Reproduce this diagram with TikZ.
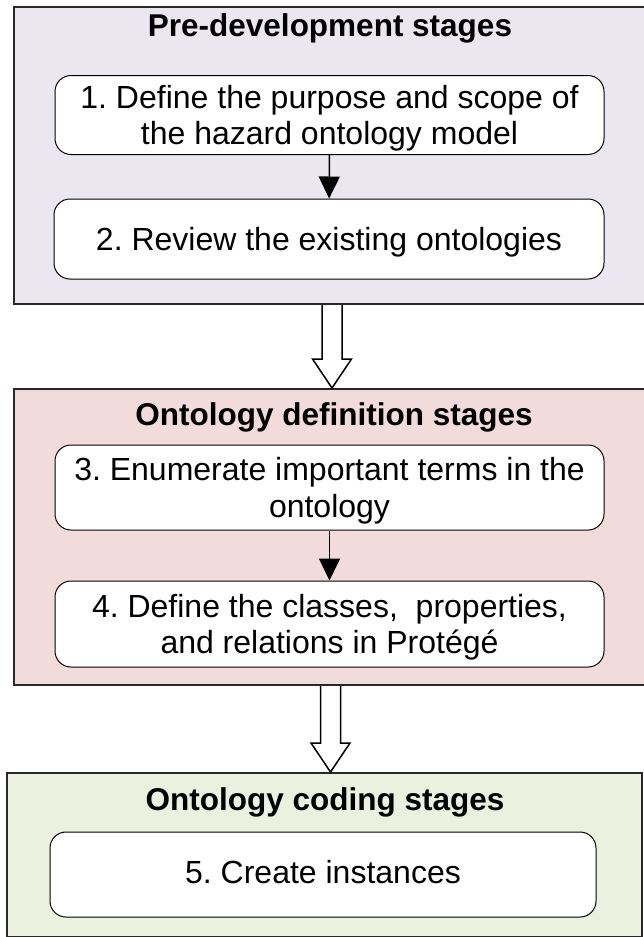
\documentclass[tikz,border=0pt]{standalone}
\usepackage{fontspec}
\setmainfont{Liberation Sans}
\usetikzlibrary{arrows.meta,calc}

\definecolor{predev}{RGB}{234,231,240}
\definecolor{ontodef}{RGB}{242,220,219}
\definecolor{ontocode}{RGB}{235,241,222}
\definecolor{frameline}{RGB}{40,40,40}

\tikzset{
  stagebox/.style={draw=frameline, line width=2pt, rectangle, inner sep=0pt},
  stagetitle/.style={font=\bfseries\fontsize{31.5}{36}\selectfont, inner sep=0pt, anchor=base},
  stepbox/.style={draw=black, line width=1pt, fill=white, rounded corners=16pt,
    align=center, inner sep=0pt, text depth=0pt, font=\fontsize{32}{36.5}\selectfont},
  flow/.style={draw=black, line width=1.5pt, -{Triangle[width=21pt,length=22pt]}},
  blockarrow/.style={draw=black, line width=1.5pt, fill=white, line join=miter},
}

% hollow block arrow from the shaft top #1 down to the tip #2
\newcommand\hollowarrow[2]{%
  \draw[blockarrow] let \p1=(#1), \p2=(#2) in
    (\x1-10pt,\y1) -- (\x1-10pt,\y2+29pt) -- (\x1-19.5pt,\y2+29pt) -- (\x2,\y2)
    -- (\x1+19.5pt,\y2+29pt) -- (\x1+10pt,\y2+29pt) -- (\x1+10pt,\y1);}

\begin{document}
\frenchspacing
\begin{tikzpicture}[x=1pt,y=-1pt]
  \useasboundingbox (0,0) rectangle (644,937);

  % stage frames
  \node[stagebox, fill=predev, minimum width=634pt, minimum height=297pt]
    (b1) at (331,155.5) {};
  \node[stagebox, fill=ontodef, minimum width=634pt, minimum height=296pt]
    (b2) at (331,537) {};
  \node[stagebox, fill=ontocode, minimum width=635pt, minimum height=164pt]
    (b3) at (324.5,855) {};

  % stage titles
  \node[stagetitle] (t1) at (330,36) {Pre-development stages};
  \node[stagetitle] (t2) at (334,425) {Ontology definition stages};
  \node[stagetitle] (t3) at (325,810) {Ontology coding stages};

  % steps
  \node[stepbox, minimum width=549pt, minimum height=79pt] (s1) at (329.5,115)
    {1. Define the purpose and scope of\\the hazard ontology model};
  \node[stepbox, minimum width=550pt, minimum height=80pt] (s2) at (329,239)
    {2. Review the existing ontologies};
  \node[stepbox, minimum width=549pt, minimum height=85pt] (s3) at (329.5,487.5)
    {3. Enumerate important terms in the\\ontology};
  \node[stepbox, minimum width=549pt, minimum height=86pt] (s4) at (329.5,624)
    {4. Define the classes,\ \ properties,\\and relations in Protégé};
  \node[stepbox, text depth=5pt, minimum width=546pt, minimum height=85pt] (s5) at (323,874.5)
    {5. Create instances};

  % connectors inside the stages
  \draw[flow] (s1) -- (s2);
  \draw[flow] (s3) -- (s4);

  % transitions between stages
  \coordinate (a1top) at (b1.south -| 332,0);
  \coordinate (a1tip) at (b2.north -| 332,0);
  \coordinate (a2top) at (b2.south -| 330.5,0);
  \coordinate (a2tip) at (b3.north -| 330.5,0);
  \hollowarrow{a1top}{a1tip}
  \hollowarrow{a2top}{a2tip}
\end{tikzpicture}
\end{document}
